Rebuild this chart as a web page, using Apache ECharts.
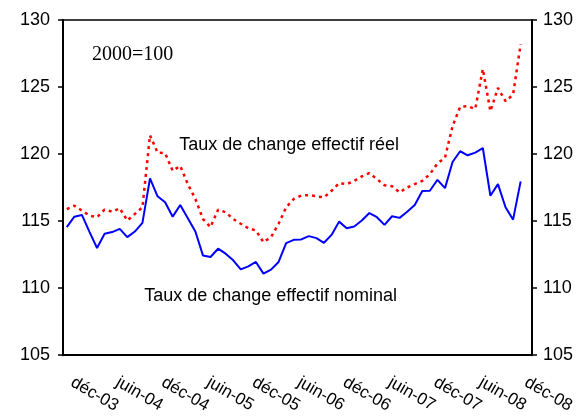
<!DOCTYPE html>
<html>
<head>
<meta charset="utf-8">
<script src="https://cdn.jsdelivr.net/npm/echarts@6/dist/echarts.min.js"></script>
<style>
  html, body { margin: 0; padding: 0; background: #fff; }
  #chart { width: 584px; height: 416px; }
</style>
</head>
<body>
<div id="chart"></div>
<script>
// mois de déc-03 à janv-09 (la dernière catégorie reste vide)
const moisNoms = ['janv', 'févr', 'mars', 'avr', 'mai', 'juin', 'juil', 'août', 'sept', 'oct', 'nov', 'déc'];
const months = ['déc-03'];
for (let y = 4; y <= 9; y++) {
    for (let m = 0; m < 12; m++) {
        if (months.length < 62) months.push(moisNoms[m] + '-0' + y);
    }
}

// Taux de change effectif nominal
const nominal = [
    114.55, 115.33, 115.46, 114.2, 112.99, 114.05, 114.18, 114.42, 113.8, 114.22,
    114.87, 118.18, 116.85, 116.4, 115.33, 116.2, 115.21, 114.22, 112.44, 112.32,
    112.94, 112.57, 112.07, 111.4, 111.62, 111.95, 111.08, 111.38, 111.95, 113.36,
    113.6, 113.63, 113.88, 113.73, 113.38, 113.97, 114.96, 114.47, 114.6, 115.04,
    115.6, 115.29, 114.72, 115.36, 115.24, 115.7, 116.2, 117.24, 117.26, 118.08,
    117.46, 119.41, 120.21, 119.91, 120.11, 120.45, 116.89, 117.76, 116.03, 115.11,
    117.96
];

// Taux de change effectif réel
const reel = [
    115.9, 116.15, 115.78, 115.41, 115.29, 115.85, 115.7, 115.96, 115.04, 115.53,
    116.03, 121.4, 120.11, 120.06, 118.75, 119.12, 117.76, 116.65, 115.16, 114.55,
    115.85, 115.66, 115.16, 114.8, 114.47, 114.3, 113.43, 113.8, 114.8, 116.03,
    116.65, 116.9, 116.94, 116.85, 116.77, 117.26, 117.83, 117.76, 118.0, 118.33,
    118.58, 118.13, 117.68, 117.6, 117.14, 117.51, 117.76, 118.0, 118.5, 119.3,
    119.74, 122.09, 123.52, 123.57, 123.37, 126.34, 123.2, 124.93, 123.94, 124.44,
    128.2
];

const yMin = 105, yMax = 130, yStep = 5;

const chart = echarts.init(document.getElementById('chart'));

const yAxisBase = {
    type: 'value',
    min: yMin,
    max: yMax,
    interval: yStep,
    splitLine: { show: false },
    axisLine: { show: true, lineStyle: { color: '#000', width: 2 } },
    axisTick: { show: true, length: 5, lineStyle: { color: '#000', width: 1.5 } },
    axisLabel: { color: '#000', fontSize: 18, fontFamily: 'Liberation Sans, Arial, sans-serif' }
};

chart.setOption({
    animation: false,
    backgroundColor: '#fff',
    grid: {
        left: 63, right: 52, top: 20, bottom: 59,
        show: true, borderColor: '#000', borderWidth: 1.5, backgroundColor: 'transparent'
    },
    xAxis: {
        type: 'category',
        data: months,
        boundaryGap: true,
        axisLine: { lineStyle: { color: '#000', width: 2 } },
        axisTick: { inside: true, length: 5, interval: 0, lineStyle: { color: '#000', width: 1 } },
        axisLabel: {
            interval: 5,
            rotate: -30,
            margin: 23,
            padding: [0, 0, 0, 6],
            color: '#000',
            fontSize: 17,
            fontFamily: 'Liberation Sans, Arial, sans-serif'
        }
    },
    yAxis: [
        Object.assign({}, yAxisBase, { position: 'left', axisLabel: Object.assign({}, yAxisBase.axisLabel, { margin: 13 }) }),
        Object.assign({}, yAxisBase, { position: 'right', axisLabel: Object.assign({}, yAxisBase.axisLabel, { margin: 11 }) })
    ],
    series: [
        {
            name: 'Taux de change effectif réel',
            type: 'line',
            data: reel,
            symbol: 'none',
            lineStyle: { color: '#ff0000', width: 2.5, type: [3, 4] },
            z: 2
        },
        {
            name: 'Taux de change effectif nominal',
            type: 'line',
            data: nominal,
            symbol: 'none',
            lineStyle: { color: '#0000ff', width: 2 },
            z: 3
        }
    ],
    graphic: [
        {
            type: 'text', left: 92, top: 45,
            style: { text: '2000=100', fill: '#000', font: '20px "Liberation Serif", "Times New Roman", serif' }
        },
        {
            type: 'text', right: 185, top: 136,
            style: { text: 'Taux de change effectif réel', fill: '#000', font: '18px "Liberation Sans", Arial, sans-serif' }
        },
        {
            type: 'text', right: 187, top: 287,
            style: { text: 'Taux de change effectif nominal', fill: '#000', font: '18px "Liberation Sans", Arial, sans-serif' }
        }
    ]
});
</script>
</body>
</html>
